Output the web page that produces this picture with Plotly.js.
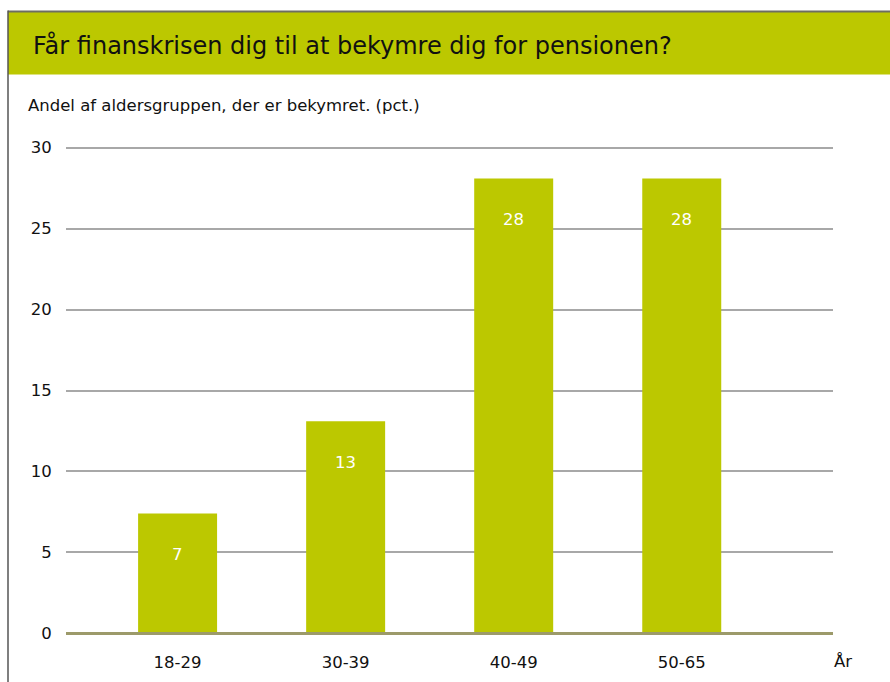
<!DOCTYPE html>
<html>
<head>
<meta charset="utf-8">
<script src="https://cdn.plot.ly/plotly-3.0.1.min.js"></script>
<style>html,body{margin:0;padding:0;background:#fff;}#chart{width:890px;height:682px;}</style>
</head>
<body>
<div id="chart"></div>
<script>
var categories = ["18-29", "30-39", "40-49", "50-65"];
var values = [7.4, 13.1, 28.1, 28.1];
var yTicks = [0, 5, 10, 15, 20, 25, 30];
var titleText = "Får finanskrisen dig til at bekymre dig for pensionen?";
var subtitleText = "Andel af aldersgruppen, der er bekymret. (pct.)";
var unitText = "År";

var W = 890, H = 682;
var yMin = -0.1, yMax = 30.1;
var pxPerUnit = 485 / 30;
var L = 66, R = 833;
var T = 148 - (yMax - 30) * pxPerUnit;
var B = 633 - yMin * pxPerUnit;
function px(x) { return (x - L) / (R - L); }
function py(y) { return (B - y) / (B - T); }

var green = "#bcc800";
var font = "DejaVu Sans, Verdana, sans-serif";

var trace = {
  type: "bar",
  x: categories,
  y: values,
  width: 0.47,
  marker: {color: green},
  hoverinfo: "x+y"
};

var annotations = categories.map(function (c, i) {
  return {
    x: c, y: values[i], xref: "x", yref: "y",
    text: String(Math.round(values[i])),
    showarrow: false, yanchor: "middle", yshift: -41,
    font: {family: font, size: 16.5, color: "#ffffff"}
  };
});
annotations.push({
  xref: "paper", yref: "paper", x: px(30.5), y: py(46), xanchor: "left", yanchor: "middle",
  text: titleText, showarrow: false, font: {family: font, size: 24, color: "#111111"}
});
annotations.push({
  xref: "paper", yref: "paper", x: px(25.5), y: py(106), xanchor: "left", yanchor: "middle",
  text: subtitleText, showarrow: false, font: {family: font, size: 16.5, color: "#111111"}
});
annotations.push({
  xref: "paper", yref: "paper", x: px(843), y: py(661), xanchor: "center", yanchor: "middle",
  text: unitText, showarrow: false, font: {family: font, size: 16.5, color: "#111111"}
});

var layout = {
  width: W, height: H,
  margin: {l: L, r: W - R, t: T, b: H - B, pad: 0},
  paper_bgcolor: "#ffffff", plot_bgcolor: "#ffffff",
  showlegend: false,
  font: {family: font, size: 16.5, color: "#111111"},
  xaxis: {
    type: "category",
    range: [-0.664, 3.9],
    showgrid: false, showline: false, zeroline: false,
    ticks: "outside", ticklen: 12, tickcolor: "rgba(0,0,0,0)",
    tickfont: {family: font, size: 16.5, color: "#111111"}
  },
  yaxis: {
    range: [yMin, yMax],
    tickvals: yTicks,
    showgrid: true, gridcolor: "#a8a8a8", gridwidth: 2,
    zeroline: false, showline: false,
    ticks: "outside", ticklen: 10, tickcolor: "rgba(0,0,0,0)",
    tickfont: {family: font, size: 16.5, color: "#111111"}
  },
  shapes: [
    {type: "rect", xref: "paper", yref: "paper", x0: px(8), x1: px(892), y0: py(12), y1: py(75),
     fillcolor: green, line: {width: 0}, layer: "below"},
    {type: "line", xref: "paper", yref: "paper", x0: px(8), x1: px(892), y0: py(12), y1: py(12),
     line: {color: "#6e6e62", width: 2}},
    {type: "line", xref: "paper", yref: "paper", x0: px(8), x1: px(8), y0: py(11), y1: py(684),
     line: {color: "#555555", width: 1.5}},
    {type: "line", xref: "paper", yref: "y", x0: 0, x1: 1, y0: 0, y1: 0,
     line: {color: "#9c9a6a", width: 3}}
  ],
  annotations: annotations
};

Plotly.newPlot("chart", [trace], layout, {displayModeBar: false, staticPlot: true});
</script>
</body>
</html>
